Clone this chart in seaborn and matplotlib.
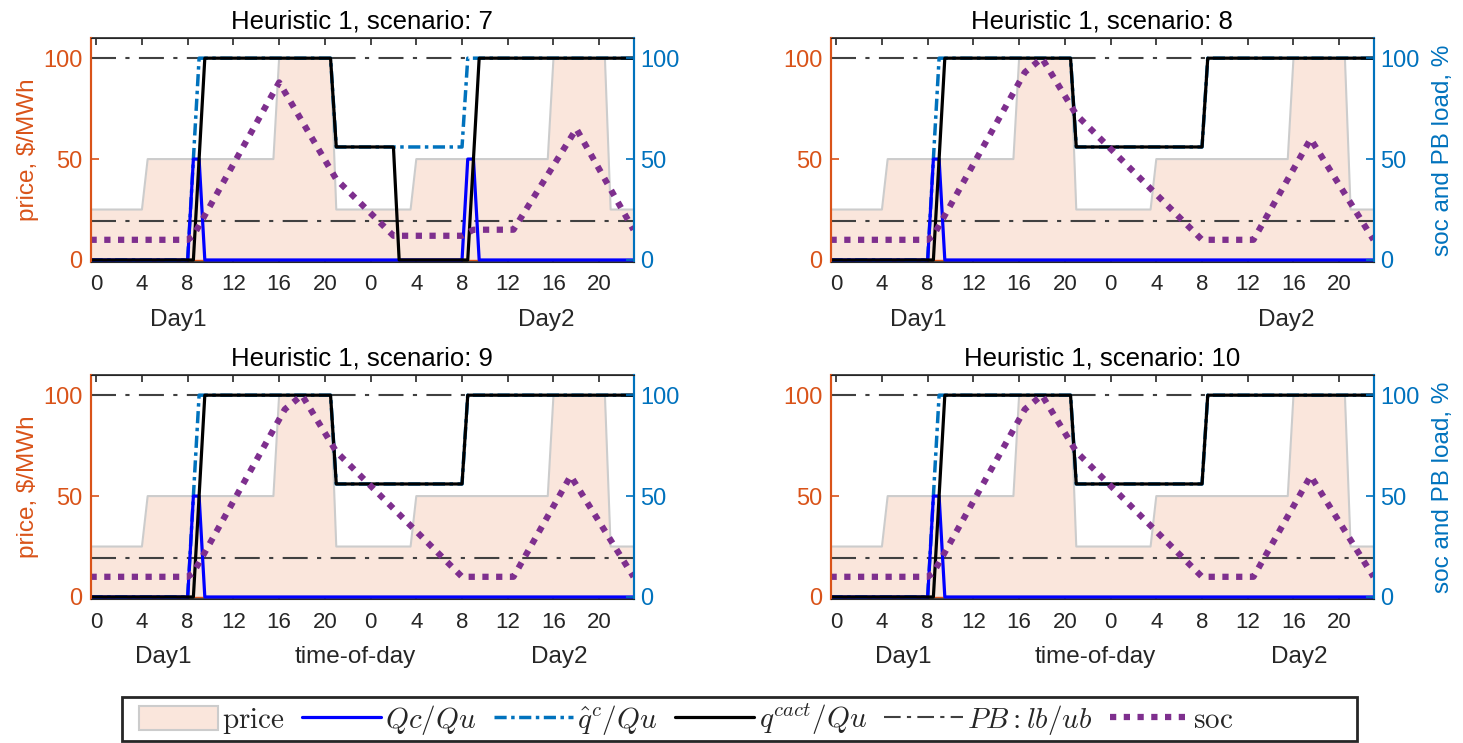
import matplotlib
matplotlib.use("Agg")
import matplotlib.pyplot as plt
import seaborn as sns
from matplotlib.patches import Rectangle, Patch
from matplotlib.lines import Line2D

sns.set_style("white")
plt.rcParams["font.family"] = ["Liberation Sans", "DejaVu Sans"]
plt.rcParams["mathtext.fontset"] = "cm"

ORANGE = "#D95319"
BLUE = "#0072BD"
PURPLE = "#7E2F8E"
FILL = "#FAE6DC"
EDGE = "#CCCCCC"
PB_COLOR = "#404040"
TXT = "#262626"

# x axis: two days, hours
hour_ticks = [0, 4, 8, 12, 16, 20, 24, 28, 32, 36, 40, 44]
hour_labels = ["0", "4", "8", "12", "16", "20", "0", "4", "8", "12", "16", "20"]

# price ($/MWh), same for every scenario
price_t = [-0.5, 4, 4.5, 15.5, 16, 20.5, 21, 27.5, 28, 39.5, 40, 44.5, 45, 47]
price_v = [25, 25, 50, 50, 100, 100, 25, 25, 50, 50, 100, 100, 25, 25]

# power block bounds (%)
pb_lb = 19.5
pb_ub = 100

scenarios = [7, 8, 9, 10]

# scenario 7
qc_t_7 = [-0.5, 8, 8.5, 9, 9.5, 32, 32.5, 33, 33.5, 47]
qc_v_7 = [0, 0, 50, 50, 0, 0, 50, 50, 0, 0]
qhat_t_7 = [-0.5, 8, 8.5, 9, 20.5, 21, 32, 32.5, 47]
qhat_v_7 = [0, 0, 50, 100, 100, 56, 56, 100, 100]
qact_t_7 = [-0.5, 8.5, 9.5, 20.5, 21, 26, 26.5, 32.5, 33.5, 47]
qact_v_7 = [0, 0, 100, 100, 56, 56, 0, 0, 100, 100]
soc_t_7 = [-0.5, 8, 8.5, 16, 21, 26, 32, 33, 36.5, 42, 47]
soc_v_7 = [10, 10, 12, 88, 40, 12, 12, 15, 15, 65, 15]

# scenario 8
qc_t_8 = [-0.5, 8, 8.5, 9, 9.5, 47]
qc_v_8 = [0, 0, 50, 50, 0, 0]
qhat_t_8 = [-0.5, 8, 8.5, 9, 20.5, 21, 32, 32.5, 47]
qhat_v_8 = [0, 0, 50, 100, 100, 56, 56, 100, 100]
qact_t_8 = [-0.5, 8.5, 9.5, 20.5, 21, 32, 32.5, 47]
qact_v_8 = [0, 0, 100, 100, 56, 56, 100, 100]
soc_t_8 = [-0.5, 8, 8.5, 16.5, 18, 21, 32, 36.5, 41.5, 47]
soc_v_8 = [10, 10, 12, 93, 100, 72, 10, 10, 60, 10]

# scenario 9
qc_t_9 = [-0.5, 8, 8.5, 9, 9.5, 47]
qc_v_9 = [0, 0, 50, 50, 0, 0]
qhat_t_9 = [-0.5, 8, 8.5, 9, 20.5, 21, 32, 32.5, 47]
qhat_v_9 = [0, 0, 50, 100, 100, 56, 56, 100, 100]
qact_t_9 = [-0.5, 8.5, 9.5, 20.5, 21, 32, 32.5, 47]
qact_v_9 = [0, 0, 100, 100, 56, 56, 100, 100]
soc_t_9 = [-0.5, 8, 8.5, 16.5, 18, 21, 32, 36.5, 41.5, 47]
soc_v_9 = [10, 10, 12, 93, 100, 72, 10, 10, 60, 10]

# scenario 10
qc_t_10 = [-0.5, 8, 8.5, 9, 9.5, 47]
qc_v_10 = [0, 0, 50, 50, 0, 0]
qhat_t_10 = [-0.5, 8, 8.5, 9, 20.5, 21, 32, 32.5, 47]
qhat_v_10 = [0, 0, 50, 100, 100, 56, 56, 100, 100]
qact_t_10 = [-0.5, 8.5, 9.5, 20.5, 21, 32, 32.5, 47]
qact_v_10 = [0, 0, 100, 100, 56, 56, 100, 100]
soc_t_10 = [-0.5, 8, 8.5, 16.5, 18, 21, 32, 36.5, 41.5, 47]
soc_v_10 = [10, 10, 12, 93, 100, 72, 10, 10, 60, 10]

qc = {7: (qc_t_7, qc_v_7), 8: (qc_t_8, qc_v_8), 9: (qc_t_9, qc_v_9), 10: (qc_t_10, qc_v_10)}
qhat = {7: (qhat_t_7, qhat_v_7), 8: (qhat_t_8, qhat_v_8), 9: (qhat_t_9, qhat_v_9), 10: (qhat_t_10, qhat_v_10)}
qact = {7: (qact_t_7, qact_v_7), 8: (qact_t_8, qact_v_8), 9: (qact_t_9, qact_v_9), 10: (qact_t_10, qact_v_10)}
soc = {7: (soc_t_7, soc_v_7), 8: (soc_t_8, soc_v_8), 9: (soc_t_9, soc_v_9), 10: (soc_t_10, soc_v_10)}

# line styles
QHAT_LS = (0, (3.5, 1.3, 1, 1.3))
PB_LS = (0, (12, 4.5, 2, 4.5))
SOC_LS = (0, (1, 1.2))

W, H = 1463, 743
fig = plt.figure(figsize=(W / 100, H / 100), dpi=100)

col_left = [90.5, 830.5]
row_top = [38, 375]
ax_w, ax_h = 543, 224

for i, s in enumerate(scenarios):
    r, c = divmod(i, 2)
    ax = fig.add_axes([col_left[c] / W, 1 - (row_top[r] + ax_h) / H, ax_w / W, ax_h / H])

    # price area
    ax.fill_between(price_t, 0, price_v, color=FILL, lw=0, zorder=1)
    sns.lineplot(x=price_t, y=price_v, ax=ax, color=EDGE, lw=1.5, estimator=None, zorder=1.5)
    ax.axhline(0, color=ORANGE, lw=1, zorder=1.6)

    # PB bounds
    ax.axhline(pb_lb, color=PB_COLOR, lw=1.5, linestyle=PB_LS, zorder=2)
    ax.axhline(pb_ub, color=PB_COLOR, lw=1.5, linestyle=PB_LS, zorder=2)

    sns.lineplot(x=qhat[s][0], y=qhat[s][1], ax=ax, color=BLUE, lw=2.5,
                 linestyle=QHAT_LS, estimator=None, zorder=3)
    sns.lineplot(x=qc[s][0], y=qc[s][1], ax=ax, color="#0000FF", lw=2.3,
                 estimator=None, zorder=3.5)
    sns.lineplot(x=qact[s][0], y=qact[s][1], ax=ax, color="black", lw=2.3,
                 estimator=None, zorder=4)
    sns.lineplot(x=soc[s][0], y=soc[s][1], ax=ax, color=PURPLE, lw=4.5,
                 linestyle=SOC_LS, estimator=None, zorder=5)

    ax.set_xlim(-0.5, 47)
    ax.set_ylim(-1, 110)
    ax.set_xticks(hour_ticks)
    ax.set_xticklabels(hour_labels)
    ax.set_yticks([0, 50, 100])
    ax.set_xlabel("")
    ax.set_ylabel("")
    ax.tick_params(axis="x", direction="in", top=True, bottom=True, length=5, width=1.2,
                   labelsize=16, pad=9, color=TXT, labelcolor=TXT)
    ax.tick_params(axis="y", direction="in", left=True, length=6, width=1.2,
                   labelsize=17, pad=6, color=ORANGE, labelcolor=ORANGE)
    for sp in ["top", "bottom"]:
        ax.spines[sp].set_color(TXT)
        ax.spines[sp].set_linewidth(1.2)
    ax.spines["left"].set_color(ORANGE)
    ax.spines["left"].set_linewidth(1.5)
    ax.spines["right"].set_color(BLUE)
    ax.spines["right"].set_linewidth(1.5)

    ax2 = ax.twinx()
    ax2.set_ylim(-1, 110)
    ax2.set_yticks([0, 50, 100])
    ax2.tick_params(axis="y", direction="in", right=True, length=6, width=1.2,
                    labelsize=17, pad=5, color=BLUE, labelcolor=BLUE)
    ax2.spines["right"].set_color(BLUE)
    ax2.spines["right"].set_linewidth(1.5)
    ax2.spines["left"].set_color(ORANGE)
    ax2.spines["left"].set_linewidth(1.5)
    ax2.spines["top"].set_color(TXT)
    ax2.spines["bottom"].set_color(TXT)

    ax.set_title(f"Heuristic 1, scenario: {s}", fontsize=18.5, pad=7, color="black")

    if c == 0:
        ax.set_ylabel(r"price, \$/MWh", fontsize=17.5, color=ORANGE, labelpad=3)
    else:
        ax2.set_ylabel("soc and PB load, %", fontsize=17.5, color=BLUE, labelpad=9)

    if r == 0:
        labels = [("Day1", 7.2), ("Day2", 39.4)]
    else:
        labels = [("Day1", 5.9), ("time-of-day", 22.7), ("Day2", 40.5)]
    for txt, xpos in labels:
        ax.text(xpos, -0.26, txt, transform=ax.get_xaxis_transform(),
                ha="center", va="center", fontsize=17.5, color=TXT)

# legend
handles = [
    Patch(facecolor=FILL, edgecolor=EDGE, lw=1.5),
    Line2D([], [], color="#0000FF", lw=2.3),
    Line2D([], [], color=BLUE, lw=2.5, linestyle=QHAT_LS),
    Line2D([], [], color="black", lw=2.3),
    Line2D([], [], color=PB_COLOR, lw=1.5, linestyle=(0, (8, 3, 2, 3))),
    Line2D([], [], color=PURPLE, lw=4.5, linestyle=SOC_LS),
]
names = [r"$\mathrm{price}$", r"$Qc/Qu$", r"$\hat{q}^c/Qu$", r"$q^{cact}/Qu$",
         r"$PB:lb/ub$", r"$\mathrm{soc}$"]
fig.legend(handles, names, loc="center left", bbox_to_anchor=(139 / W, 1 - 719 / H),
           ncol=6, frameon=False, fontsize=21, handlelength=2.7, handletextpad=0.15,
           columnspacing=0.6, handleheight=0.9, borderaxespad=0, borderpad=0)
fig.patches.append(Rectangle((122 / W, 1 - 741 / H), (1357 - 122) / W, 44 / H,
                             transform=fig.transFigure, fill=False,
                             edgecolor=TXT, lw=2))

fig.savefig("out.png", dpi=100)
